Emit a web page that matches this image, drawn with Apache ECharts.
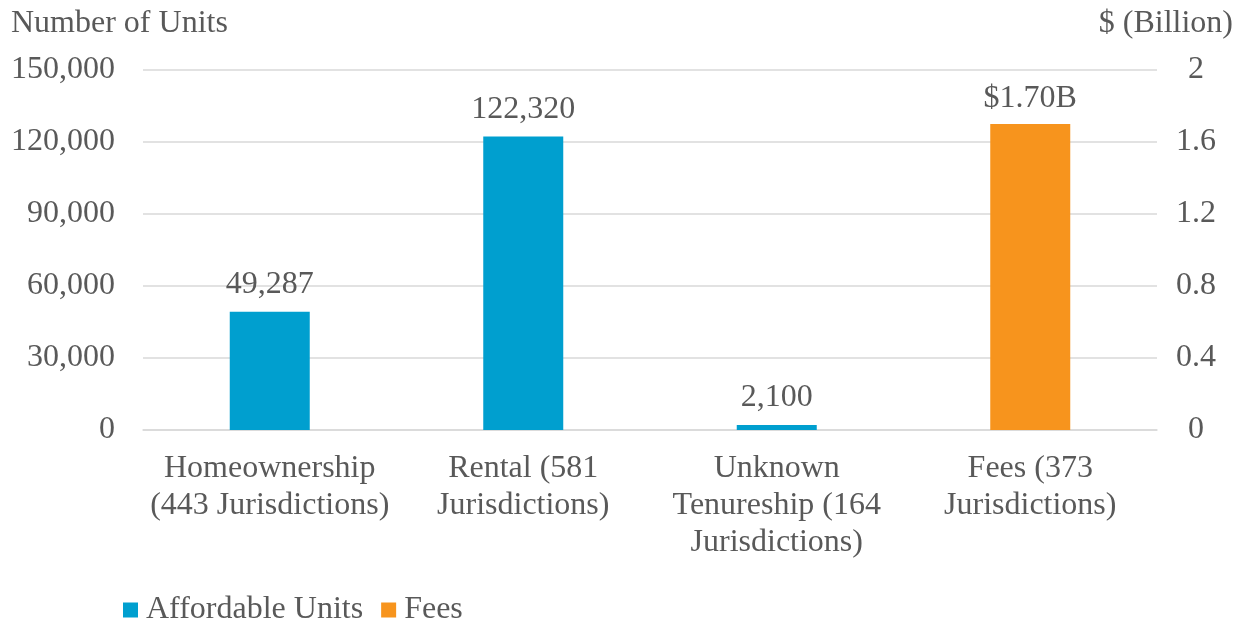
<!DOCTYPE html>
<html>
<head>
<meta charset="utf-8">
<script src="https://cdn.jsdelivr.net/npm/echarts@6/dist/echarts.min.js"></script>
<style>
  html, body { margin: 0; padding: 0; background: #fff; }
  #chart { width: 1243px; height: 622px; }
</style>
</head>
<body>
<div id="chart"></div>
<script>
// categories and values
var categories = [
    'Homeownership\n(443 Jurisdictions)',
    'Rental (581\nJurisdictions)',
    'Unknown\nTenureship (164\nJurisdictions)',
    'Fees (373\nJurisdictions)'
];
var unitValues = [49287, 122320, 2100, null];
var feeValues = [null, null, null, 1.70];
var leftTicks = { min: 0, max: 150000, interval: 30000 };
var rightTicks = { min: 0, max: 2, interval: 0.4 };

var FONT = 'Liberation Serif';
var TXT = '#595959';
var SIZE = 32;

var chart = echarts.init(document.getElementById('chart'));

var option = {
    animation: false,
    textStyle: { fontFamily: FONT, color: TXT },
    title: [
        { text: 'Number of Units', left: 11, top: 8, padding: 0,
          textStyle: { fontFamily: FONT, fontSize: SIZE, fontWeight: 'normal', color: TXT } },
        { text: '$ (Billion)', right: 10, top: 8, padding: 0,
          textStyle: { fontFamily: FONT, fontSize: SIZE, fontWeight: 'normal', color: TXT } }
    ],
    grid: { left: 143, right: 86, top: 70, bottom: 192 },
    legend: {
        left: 118, top: 589,
        itemWidth: 15, itemHeight: 15, itemGap: 18,
        icon: 'rect',
        textStyle: { fontFamily: FONT, fontSize: SIZE, color: TXT, padding: [0, 0, 0, 3] },
        data: ['Affordable Units', 'Fees']
    },
    xAxis: {
        type: 'category',
        data: categories,
        axisLine: { lineStyle: { color: '#d9d9d9', width: 1.5 } },
        axisTick: { show: false },
        axisLabel: {
            interval: 0, margin: 20,
            fontFamily: FONT, fontSize: SIZE, color: TXT, lineHeight: 37
        }
    },
    yAxis: [
        {
            type: 'value',
            min: leftTicks.min, max: leftTicks.max, interval: leftTicks.interval,
            axisLine: { show: false },
            axisTick: { show: false },
            splitLine: { lineStyle: { color: '#d9d9d9', width: 1.5 } },
            axisLabel: {
                margin: 28, fontFamily: FONT, fontSize: SIZE, color: TXT,
                formatter: function (v) { return v.toLocaleString('en-US'); }
            }
        },
        {
            type: 'value',
            min: rightTicks.min, max: rightTicks.max, interval: rightTicks.interval,
            axisLine: { show: false },
            axisTick: { show: false },
            splitLine: { show: false },
            axisLabel: {
                margin: 39, align: 'center',
                fontFamily: FONT, fontSize: SIZE, color: TXT,
                formatter: function (v) { return String(Math.round(v * 10) / 10); }
            }
        }
    ],
    series: [
        {
            name: 'Affordable Units',
            type: 'bar',
            yAxisIndex: 0,
            barWidth: 80,
            barGap: '-100%',
            itemStyle: { color: '#009fcf' },
            label: {
                show: true, position: 'top', distance: 11,
                fontFamily: FONT, fontSize: SIZE, color: TXT,
                formatter: function (p) { return p.value.toLocaleString('en-US'); }
            },
            data: unitValues
        },
        {
            name: 'Fees',
            type: 'bar',
            yAxisIndex: 1,
            barWidth: 80,
            itemStyle: { color: '#f7941d' },
            label: {
                show: true, position: 'top', distance: 9,
                fontFamily: FONT, fontSize: SIZE, color: TXT,
                formatter: function (p) { return '$' + p.value.toFixed(2) + 'B'; }
            },
            data: feeValues
        }
    ]
};

chart.setOption(option);
</script>
</body>
</html>
